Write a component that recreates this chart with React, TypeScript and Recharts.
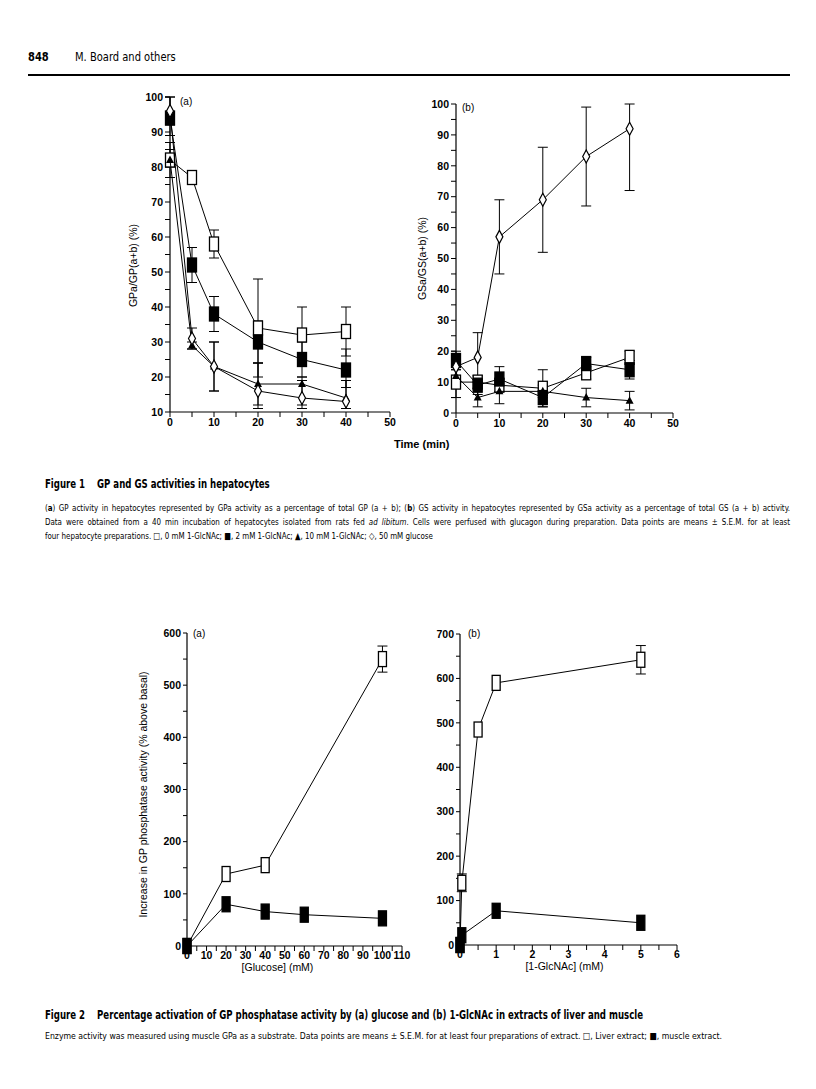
import React from 'react';
import { ScatterChart, Scatter, XAxis, YAxis, ErrorBar, Label } from 'recharts';

const FONT = '"Liberation Sans", Arial, Helvetica, sans-serif';
const NARROW = '"Liberation Sans Narrow", "Arial Narrow", "DejaVu Sans Condensed", sans-serif';

// Figure 1 (a) — GPa/GP(a+b) (%) against time (min)
const TIME = [0, 5, 10, 20, 30, 40];
const GP_CTRL = [82, 77, 58, 34, 32, 33]; // 0 mM 1-GlcNAc
const GP_CTRL_SEM = [[2, 3], null, [4, 4], [14, 14], [8, 8], [7, 7]];
const GP_2MM = [94, 52, 38, 30, 25, 22];
const GP_2MM_SEM = [[5, 6], [5, 5], [5, 5], [6, 6], [5, 5], [5, 6]];
const GP_10MM = [82, 29, 23, 18, 18, 14];
const GP_10MM_SEM = [[5, 5], [1, 1], [7, 7], [6, 6], [6, 2], [3, 5]];
const GP_GLC = [96, 31, 23, 16, 14, 13]; // 50 mM glucose
const GP_GLC_SEM = [[4, 4], [3, 3], [7, 7], [5, 8], [3, 5], [2, 6]];

// Figure 1 (b) — GSa/GS(a+b) (%)
const GS_CTRL = [10, 10, 9, 8, 13, 18];
const GS_CTRL_SEM = [[5, 5], [2, 2], [2, 2], [6, 6], [2, 2], [1, 2]];
const GS_2MM = [17, 9, 11, 5, 16, 14];
const GS_2MM_SEM = [[3, 3], [3, 3], [4, 4], [3, 3], [2, 2], [3, 3]];
const GS_10MM = [12, 5, 7, 7, 5, 4];
const GS_10MM_SEM = [[2, 2], [3, 3], [4, 4], [2, 2], [3, 3], [3, 3]];
const GS_GLC = [15, 18, 57, 69, 83, 92];
const GS_GLC_SEM = [[3, 3], [8, 8], [12, 12], [17, 17], [16, 16], [20, 8]];

// Figure 2 (a) — activation by glucose
const GLC_LIVER = [0, 20, 40, 100];
const ACT_GLC_LIVER = [0, 138, 155, 550];
const ACT_GLC_LIVER_SEM = [null, null, null, [25, 25]];
const GLC_MUSCLE = [0, 20, 40, 60, 100];
const ACT_GLC_MUSCLE = [0, 80, 66, 60, 53];

// Figure 2 (b) — activation by 1-GlcNAc
const NAC_LIVER = [0, 0.05, 0.5, 1, 5];
const ACT_NAC_LIVER = [0, 140, 485, 590, 642];
const ACT_NAC_LIVER_SEM = [null, [20, 20], null, null, [32, 32]];
const NAC_MUSCLE = [0, 0.05, 1, 5];
const ACT_NAC_MUSCLE = [0, 22, 77, 50];

// axis ticks
const T_TIME = [0, 5, 10, 15, 20, 25, 30, 35, 40, 45, 50];
const T_GP = [10, 15, 20, 25, 30, 35, 40, 45, 50, 55, 60, 65, 70, 75, 80, 85, 90, 95, 100];
const T_GS = [0, 5, 10, 15, 20, 25, 30, 35, 40, 45, 50, 55, 60, 65, 70, 75, 80, 85, 90, 95, 100];
const T_GLC = [0, 5, 10, 15, 20, 25, 30, 35, 40, 45, 50, 55, 60, 65, 70, 75, 80, 85, 90, 95, 100, 105, 110];
const T_ACT_A = [0, 50, 100, 150, 200, 250, 300, 350, 400, 450, 500, 550, 600];
const T_NAC = [0, 0.5, 1, 1.5, 2, 2.5, 3, 3.5, 4, 4.5, 5, 5.5, 6];
const T_ACT_B = [0, 50, 100, 150, 200, 250, 300, 350, 400, 450, 500, 550, 600, 650, 700];

function pts(xs: number[], ys: number[], sem?: (number[] | null)[]) {
  return xs.map((x, i) => ({ x, y: ys[i], e: sem ? sem[i] : null }));
}

const box = (w: number, h: number, filled: boolean) => (p: any) => (
  <rect x={p.cx - w / 2} y={p.cy - h / 2} width={w} height={h}
    fill={filled ? '#000' : '#fff'} stroke="#000" strokeWidth={1.3} />
);
const tri = (p: any) => (
  <path d={`M${p.cx},${p.cy - 4.5}L${p.cx + 4},${p.cy + 3}L${p.cx - 4},${p.cy + 3}Z`} fill="#000" />
);
const dia = (p: any) => (
  <path d={`M${p.cx},${p.cy - 6.5}L${p.cx + 3.5},${p.cy}L${p.cx},${p.cy + 6.5}L${p.cx - 3.5},${p.cy}Z`}
    fill="#fff" stroke="#000" strokeWidth={1.2} />
);

const tickStyle = { fontSize: 10.5, fontWeight: 700, fill: '#000', fontFamily: FONT };
const axisLine = { stroke: '#000', strokeWidth: 1.2 };
const tickLine = { stroke: '#000', strokeWidth: 1 };
const lineStyle = { stroke: '#000', strokeWidth: 1 };
const labelStyle = { fontSize: 10.5, fill: '#000', fontFamily: FONT };
const every = (n: number) => (v: number) => (Math.abs(v % n) < 1e-9 ? String(v) : '');

const sq1 = box(9, 14, false);
const sq1f = box(9, 14, true);
const sq2 = box(8, 15, false);
const sq2f = box(8, 15, true);

// condensed print text: squeeze a normal face horizontally
function Squeeze({ left, top, width, scale, justify, style, children }: any) {
  return (
    <div style={{
      position: 'absolute', left, top, width: width / scale,
      transform: `scaleX(${scale})`, transformOrigin: 'left top',
      whiteSpace: justify ? 'normal' : 'nowrap',
      textAlign: justify ? 'justify' : 'left',
      textAlignLast: justify ? 'justify' : 'auto',
      fontFamily: NARROW, ...style,
    }}>
      {children}
    </div>
  );
}

export default function App() {
  const abs = (left: number, top: number): React.CSSProperties => ({ position: 'absolute', left, top });
  const body = { fontSize: 9.2, lineHeight: '14px' };
  const title = { fontSize: 11.5, fontWeight: 700, whiteSpace: 'pre' };
  return (
    <div style={{ position: 'absolute', left: 0, top: 0, width: 816, height: 1089, background: '#fff', color: '#000' }}>
      {/* running head */}
      <Squeeze left={28} top={49} width={30} scale={0.85} style={{ fontSize: 13, fontWeight: 700 }}>848</Squeeze>
      <Squeeze left={75} top={49} width={110} scale={0.85} style={{ fontSize: 13 }}>M. Board and others</Squeeze>
      <div style={{ ...abs(28, 74), width: 762, height: 1.5, background: '#000' }} />

      {/* Figure 1a */}
      <div style={abs(100, 80)}>
        <ScatterChart width={300} height={370} margin={{ top: 17, right: 10, bottom: 8, left: 30 }}>
          <XAxis type="number" dataKey="x" domain={[0, 50]} ticks={T_TIME} interval={0}
            tickFormatter={every(10)} tick={tickStyle} axisLine={axisLine} tickLine={tickLine} tickSize={5} height={30} />
          <YAxis type="number" dataKey="y" domain={[10, 100]} ticks={T_GP} interval={0}
            tickFormatter={every(10)} tick={tickStyle} axisLine={axisLine} tickLine={tickLine} tickSize={5} width={40}>
            <Label value="GPa/GP(a+b) (%)" angle={-90} position="center" dx={-17} dy={11} style={labelStyle} />
          </YAxis>
          <Scatter data={pts(TIME, GP_CTRL, GP_CTRL_SEM)} line={lineStyle} shape={sq1} isAnimationActive={false}>
            <ErrorBar dataKey="e" direction="y" width={5} stroke="#000" strokeWidth={1} />
          </Scatter>
          <Scatter data={pts(TIME, GP_2MM, GP_2MM_SEM)} line={lineStyle} shape={sq1f} isAnimationActive={false}>
            <ErrorBar dataKey="e" direction="y" width={5} stroke="#000" strokeWidth={1} />
          </Scatter>
          <Scatter data={pts(TIME, GP_10MM, GP_10MM_SEM)} line={lineStyle} shape={tri} isAnimationActive={false}>
            <ErrorBar dataKey="e" direction="y" width={5} stroke="#000" strokeWidth={1} />
          </Scatter>
          <Scatter data={pts(TIME, GP_GLC, GP_GLC_SEM)} line={lineStyle} shape={dia} isAnimationActive={false}>
            <ErrorBar dataKey="e" direction="y" width={5} stroke="#000" strokeWidth={1} />
          </Scatter>
        </ScatterChart>
        <div style={{ ...abs(80, 16), fontFamily: FONT, fontSize: 10 }}>(a)</div>
      </div>

      {/* Figure 1b */}
      <div style={abs(400, 80)}>
        <ScatterChart width={300} height={370} margin={{ top: 24, right: 27, bottom: 7, left: 16 }}>
          <XAxis type="number" dataKey="x" domain={[0, 50]} ticks={T_TIME} interval={0}
            tickFormatter={every(10)} tick={tickStyle} axisLine={axisLine} tickLine={tickLine} tickSize={5} height={30} />
          <YAxis type="number" dataKey="y" domain={[0, 100]} ticks={T_GS} interval={0}
            tickFormatter={every(10)} tick={tickStyle} axisLine={axisLine} tickLine={tickLine} tickSize={5} width={40}>
            <Label value="GSa/GS(a+b) (%)" angle={-90} position="center" dx={-14} style={labelStyle} />
          </YAxis>
          <Scatter data={pts(TIME, GS_CTRL, GS_CTRL_SEM)} line={lineStyle} shape={sq1} isAnimationActive={false}>
            <ErrorBar dataKey="e" direction="y" width={5} stroke="#000" strokeWidth={1} />
          </Scatter>
          <Scatter data={pts(TIME, GS_2MM, GS_2MM_SEM)} line={lineStyle} shape={sq1f} isAnimationActive={false}>
            <ErrorBar dataKey="e" direction="y" width={5} stroke="#000" strokeWidth={1} />
          </Scatter>
          <Scatter data={pts(TIME, GS_10MM, GS_10MM_SEM)} line={lineStyle} shape={tri} isAnimationActive={false}>
            <ErrorBar dataKey="e" direction="y" width={5} stroke="#000" strokeWidth={1} />
          </Scatter>
          <Scatter data={pts(TIME, GS_GLC, GS_GLC_SEM)} line={lineStyle} shape={dia} isAnimationActive={false}>
            <ErrorBar dataKey="e" direction="y" width={5} stroke="#000" strokeWidth={1} />
          </Scatter>
        </ScatterChart>
        <div style={{ ...abs(62, 22), fontFamily: FONT, fontSize: 10 }}>(b)</div>
      </div>
      <div style={{ ...abs(394, 438), fontFamily: FONT, fontSize: 11, fontWeight: 700 }}>Time (min)</div>

      {/* Figure 1 caption */}
      <Squeeze left={45} top={477} width={240} scale={0.83} style={title}>
        {'Figure 1    GP and GS activities in hepatocytes'}
      </Squeeze>
      <Squeeze left={45} top={501} width={745} scale={0.86} justify style={body}>
        (<b>a</b>) GP activity in hepatocytes represented by GPa activity as a percentage of total GP (a + b); (<b>b</b>) GS activity in hepatocytes represented by GSa activity as a percentage of total GS (a + b) activity.
      </Squeeze>
      <Squeeze left={45} top={515} width={745} scale={0.86} justify style={body}>
        Data were obtained from a 40 min incubation of hepatocytes isolated from rats fed <i>ad libitum</i>. Cells were perfused with glucagon during preparation. Data points are means ± S.E.M. for at least
      </Squeeze>
      <Squeeze left={45} top={529} width={600} scale={0.86} style={body}>
        four hepatocyte preparations. □, 0 mM 1-GlcNAc; ■, 2 mM 1-GlcNAc; ▲, 10 mM 1-GlcNAc; ◇, 50 mM glucose
      </Squeeze>

      {/* Figure 2a */}
      <div style={abs(100, 610)}>
        <ScatterChart width={320} height={390} margin={{ top: 23, right: 18, bottom: 24, left: 47 }}>
          <XAxis type="number" dataKey="x" domain={[0, 110]} ticks={T_GLC} interval={0}
            tickFormatter={every(10)} tick={tickStyle} axisLine={axisLine} tickLine={tickLine} tickSize={5} tickMargin={1} height={30}>
            <Label value="[Glucose] (mM)" position="center" dx={-17} dy={6} style={labelStyle} />
          </XAxis>
          <YAxis type="number" dataKey="y" domain={[0, 600]} ticks={T_ACT_A} interval={0}
            tickFormatter={every(100)} tick={tickStyle} axisLine={axisLine} tickLine={tickLine} tickSize={4} width={40}>
            <Label value="Increase in GP phosphatase activity (% above basal)" angle={-90} position="center" dx={-24} dy={5} style={labelStyle} />
          </YAxis>
          <Scatter data={pts(GLC_LIVER, ACT_GLC_LIVER, ACT_GLC_LIVER_SEM)} line={lineStyle} shape={sq2} isAnimationActive={false}>
            <ErrorBar dataKey="e" direction="y" width={5} stroke="#000" strokeWidth={1} />
          </Scatter>
          <Scatter data={pts(GLC_MUSCLE, ACT_GLC_MUSCLE)} line={lineStyle} shape={sq2f} isAnimationActive={false} />
        </ScatterChart>
        <div style={{ ...abs(93, 18), fontFamily: FONT, fontSize: 10 }}>(a)</div>
      </div>

      {/* Figure 2b */}
      <div style={abs(400, 610)}>
        <ScatterChart width={300} height={390} margin={{ top: 24, right: 23, bottom: 25, left: 20 }}>
          <XAxis type="number" dataKey="x" domain={[0, 6]} ticks={T_NAC} interval={0}
            tickFormatter={every(1)} tick={tickStyle} axisLine={axisLine} tickLine={tickLine} tickSize={5} tickMargin={1} height={30}>
            <Label value="[1-GlcNAc] (mM)" position="center" dx={-4} dy={6} style={labelStyle} />
          </XAxis>
          <YAxis type="number" dataKey="y" domain={[0, 700]} ticks={T_ACT_B} interval={0}
            tickFormatter={every(100)} tick={tickStyle} axisLine={axisLine} tickLine={tickLine} tickSize={4} width={40} />
          <Scatter data={pts(NAC_LIVER, ACT_NAC_LIVER, ACT_NAC_LIVER_SEM)} line={lineStyle} shape={sq2} isAnimationActive={false}>
            <ErrorBar dataKey="e" direction="y" width={5} stroke="#000" strokeWidth={1} />
          </Scatter>
          <Scatter data={pts(NAC_MUSCLE, ACT_NAC_MUSCLE)} line={lineStyle} shape={sq2f} isAnimationActive={false} />
        </ScatterChart>
        <div style={{ ...abs(68, 18), fontFamily: FONT, fontSize: 10 }}>(b)</div>
      </div>

      {/* Figure 2 caption */}
      <Squeeze left={45} top={1008} width={620} scale={0.83} style={title}>
        {'Figure 2    Percentage activation of GP phosphatase activity by (a) glucose and (b) 1-GlcNAc in extracts of liver and muscle'}
      </Squeeze>
      <Squeeze left={45} top={1029} width={700} scale={0.94} style={body}>
        Enzyme activity was measured using muscle GPa as a substrate. Data points are means ± S.E.M. for at least four preparations of extract. □, Liver extract; ■, muscle extract.
      </Squeeze>
    </div>
  );
}
